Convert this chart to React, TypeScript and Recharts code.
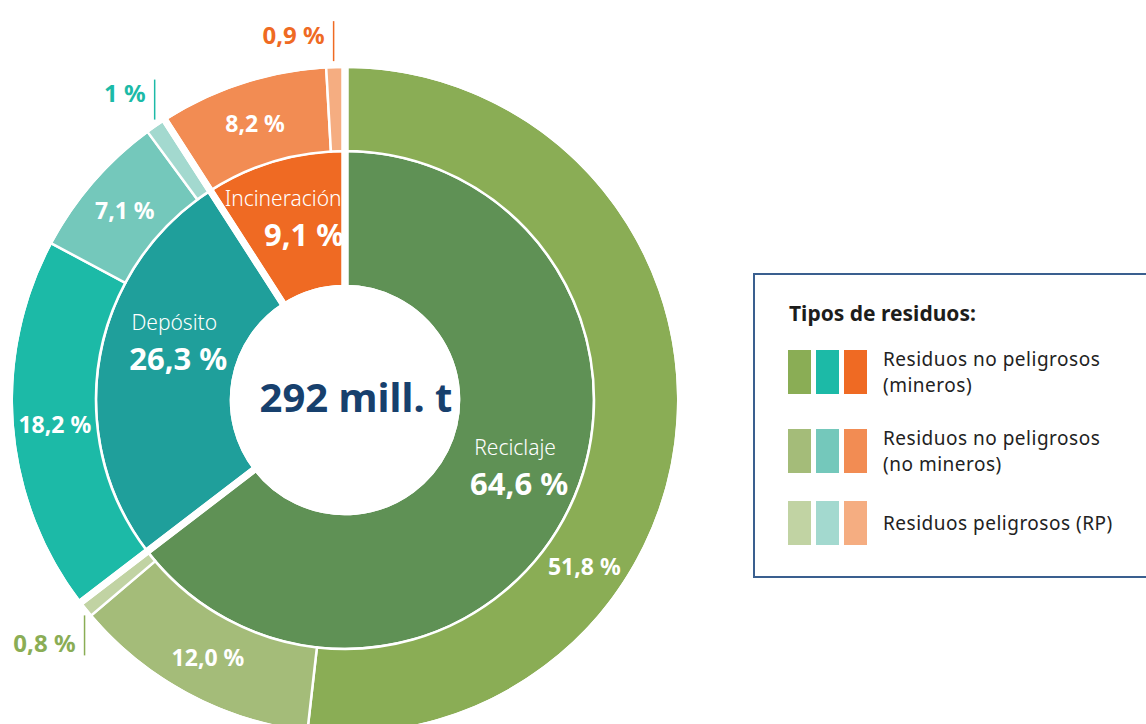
import React from 'react';
import { PieChart, Pie, Cell } from 'recharts';

const FONT = '"Noto Sans", "Open Sans", sans-serif';

// Inner ring: treatment groups (share of 292 mill. t)
const groups = ['Reciclaje', 'Depósito', 'Incineración'];
const groupShares = [64.6, 26.3, 9.1];
const groupLabels = ['64,6 %', '26,3 %', '9,1 %'];
const groupColors = ['#5f9155', '#1f9f9b', '#ef6a23'];

// Outer ring: waste types inside each group, clockwise from the top
const outerShares = [51.8, 12.0, 0.8, 18.2, 7.1, 1.0, 8.2, 0.9];
const outerLabels = ['51,8 %', '12,0 %', '0,8 %', '18,2 %', '7,1 %', '1 %', '8,2 %', '0,9 %'];
const outerGroup = [0, 0, 0, 1, 1, 1, 2, 2];
const outerTier = ['mineros', 'noMineros', 'rp', 'mineros', 'noMineros', 'rp', 'noMineros', 'rp'];

const tierColors: Record<string, string[]> = {
  mineros: ['#8aad55', '#1cbaa7', '#ef6a23'],
  noMineros: ['#a4bc79', '#74c8bb', '#f28c53'],
  rp: ['#c1d3a3', '#a3d9cf', '#f5ad81'],
};

const legendRows = [
  { tier: 'mineros', lines: ['Residuos no peligrosos', '(mineros)'] },
  { tier: 'noMineros', lines: ['Residuos no peligrosos', '(no mineros)'] },
  { tier: 'rp', lines: ['Residuos peligrosos (RP)'] },
];

const innerData = groups.map((name, i) => ({ name, value: groupShares[i] }));
const outerData = outerShares.map((value, i) => ({ name: outerLabels[i], value }));

const CX = 345;
const CY = 400;
const RAD = Math.PI / 180;

// label spots (clockwise degrees from top, radius) where the original moves them off the centroid
const innerSpot: Record<string, { angle: number; r: number }> = {
  Reciclaje: { angle: 110.7, r: 184 },
  'Depósito': { angle: 289.5, r: 179 },
  'Incineración': { angle: 343.4, r: 192 },
};
const outerAngleOverride: Record<string, number> = { '51,8 %': 124.7 };

const polar = (cx: number, cy: number, r: number, cwFromTop: number) => ({
  x: cx + r * Math.sin(cwFromTop * RAD),
  y: cy - r * Math.cos(cwFromTop * RAD),
});

const renderInnerLabel = (props: any) => {
  const { cx, cy, index } = props;
  const name = groups[index];
  const spot = innerSpot[name];
  const p = polar(cx, cy, spot.r, spot.angle);
  const valueDx = name === 'Incineración' ? 14 : 2;
  const nameDx = name === 'Incineración' ? -7 : -2;
  return (
    <g>
      <text x={p.x + nameDx} y={p.y - 18} textAnchor="middle" dominantBaseline="central"
        fill="#fff" fontFamily={FONT} fontSize={21} fontWeight={300}>{name}</text>
      <text x={p.x + valueDx} y={p.y + 18} textAnchor="middle" dominantBaseline="central"
        fill="#fff" fontFamily={FONT} fontSize={31} fontWeight={700}>{groupLabels[index]}</text>
    </g>
  );
};

const renderOuterLabel = (props: any) => {
  const { cx, cy, midAngle, index, innerRadius, outerRadius } = props;
  const share = outerShares[index];
  const text = outerLabels[index];
  const mid = 90 - midAngle;
  if (share < 2) {
    const color = tierColors.mineros[outerGroup[index]];
    const edge = polar(cx, cy, outerRadius - 1.25, mid);
    const dir = edge.y < cy ? -1 : 1;
    const lx = edge.x - 2;
    const y0 = edge.y + dir * 7;
    const y1 = y0 + dir * 40;
    return (
      <g>
        <line x1={lx} y1={y0} x2={lx} y2={y1} stroke={color} strokeWidth={1.5} />
        <text x={lx - 9} y={y1 - dir * 13} textAnchor="end" dominantBaseline="central"
          fill={color} fontFamily={FONT} fontSize={24} fontWeight={700}>{text}</text>
      </g>
    );
  }
  const angle = outerAngleOverride[text] ?? mid;
  const p = polar(cx, cy, (innerRadius + outerRadius) / 2, angle);
  return (
    <text x={p.x} y={p.y} textAnchor="middle" dominantBaseline="central"
      fill="#fff" fontFamily={FONT} fontSize={23} fontWeight={700}>{text}</text>
  );
};

export default function App() {
  return (
    <div style={{ position: 'absolute', left: 0, top: 0, width: 1146, height: 724, overflow: 'hidden', background: '#fff', fontFamily: FONT }}>
      <div style={{ position: 'absolute', left: 0, top: 0 }}>
        <PieChart width={1146} height={724} margin={{ top: 0, right: 0, bottom: 0, left: 0 }}>
          <Pie
            data={innerData}
            dataKey="value"
            nameKey="name"
            cx={CX}
            cy={CY}
            innerRadius={114}
            outerRadius={249}
            startAngle={90}
            endAngle={-270}
            stroke="#fff"
            strokeWidth={2.5}
            labelLine={false}
            label={renderInnerLabel}
            isAnimationActive={false}
          >
            {innerData.map((_e, i) => (
              <Cell key={`in-${i}`} fill={groupColors[i]} />
            ))}
          </Pie>
          <Pie
            data={outerData}
            dataKey="value"
            nameKey="name"
            cx={CX}
            cy={CY}
            innerRadius={249}
            outerRadius={333.25}
            startAngle={90}
            endAngle={-270}
            stroke="#fff"
            strokeWidth={2.5}
            labelLine={false}
            label={renderOuterLabel}
            isAnimationActive={false}
          >
            {outerData.map((_e, i) => (
              <Cell key={`out-${i}`} fill={tierColors[outerTier[i]][outerGroup[i]]} />
            ))}
          </Pie>
          {/* wide white cuts between the three groups, through both rings */}
          <Pie
            data={innerData}
            dataKey="value"
            cx={CX}
            cy={CY}
            innerRadius={111.75}
            outerRadius={335.5}
            startAngle={90}
            endAngle={-270}
            fill="none"
            stroke="#fff"
            strokeWidth={7}
            isAnimationActive={false}
          />
        </PieChart>
      </div>

      <div style={{
        position: 'absolute', left: 356, top: 396, transform: 'translate(-50%, -50%)',
        color: '#17406d', fontSize: 40, fontWeight: 700, whiteSpace: 'nowrap',
      }}>
        292 mill. t
      </div>

      <div style={{
        position: 'absolute', left: 753, top: 273, width: 420, height: 305,
        border: '2px solid #3a5f8f', boxSizing: 'border-box',
      }}>
        <div style={{
          position: 'absolute', left: 34, top: 24, fontSize: 21, fontWeight: 700,
          color: '#1d1d1b', whiteSpace: 'nowrap',
        }}>
          Tipos de residuos:
        </div>
        {legendRows.map((row, r) => {
          const top = [75, 154, 226][r];
          return (
            <div key={row.tier} style={{ position: 'absolute', left: 33, top, height: 44 }}>
              {tierColors[row.tier].map((c, k) => (
                <div key={k} style={{
                  position: 'absolute', left: k * 28, top: 0, width: 23, height: 44, background: c,
                }} />
              ))}
              <div style={{
                position: 'absolute', left: 95, top: 22, transform: 'translateY(-50%)',
                fontSize: 19, letterSpacing: 0.5, lineHeight: '26px', color: '#222', whiteSpace: 'nowrap',
              }}>
                {row.lines.map((l) => <div key={l}>{l}</div>)}
              </div>
            </div>
          );
        })}
      </div>
    </div>
  );
}
